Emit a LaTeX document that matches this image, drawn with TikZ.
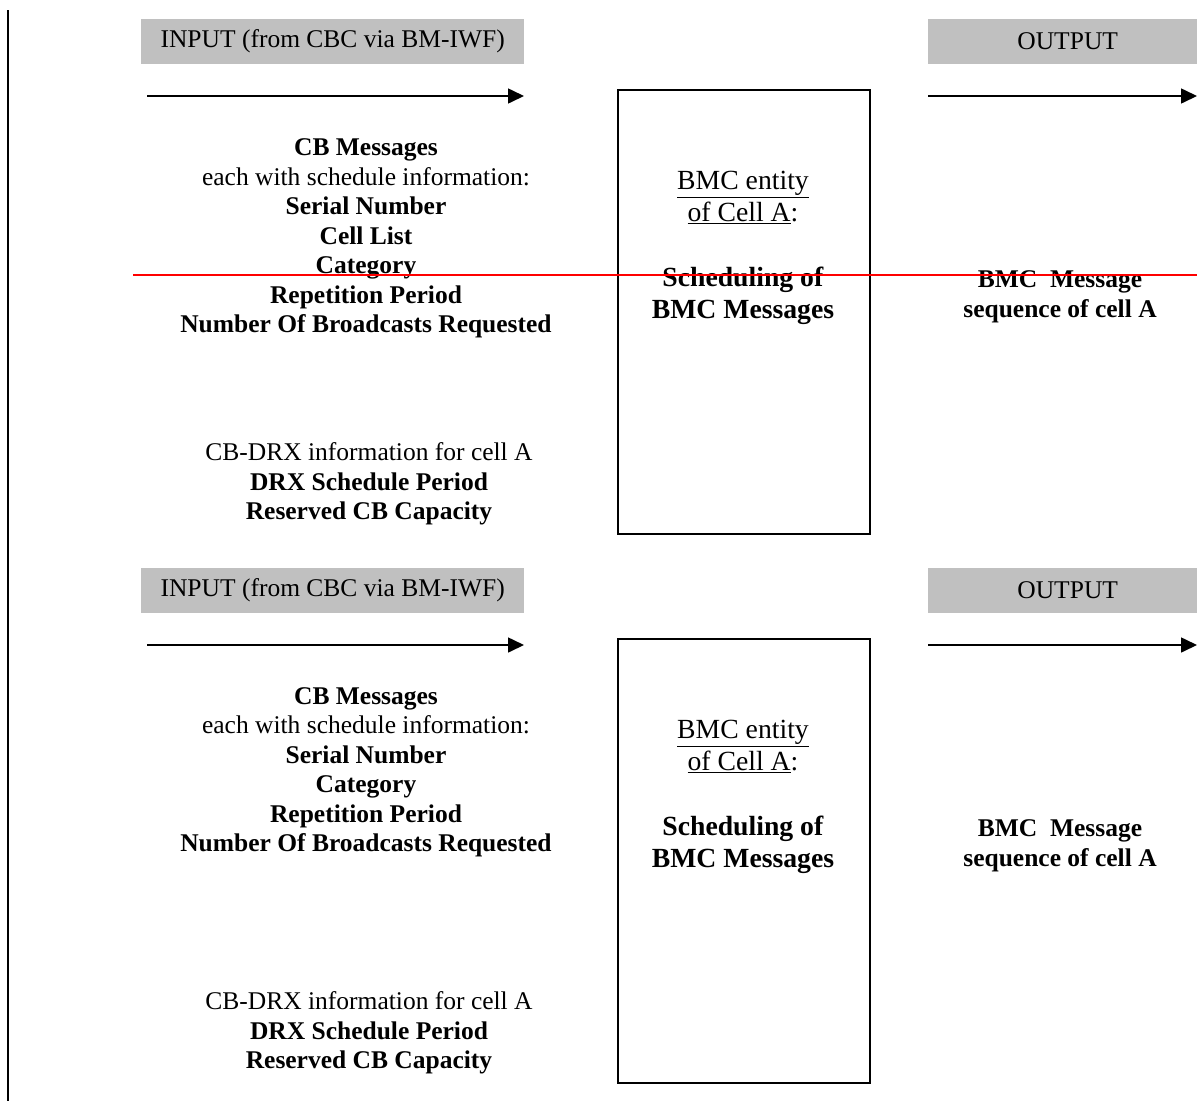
\documentclass[tikz,border=0pt]{standalone}
\usepackage{fontspec}
\setmainfont{Liberation Serif}
\usetikzlibrary{arrows.meta}
\definecolor{hdrgray}{HTML}{C0C0C0}
\tikzset{
  hdr/.style={fill=hdrgray,draw=none,minimum height=45pt,inner sep=0pt,anchor=north west,font=\fontsize{25.5}{29}\selectfont},
  flow/.style={line width=1.6pt,-{Triangle[length=16pt,width=15pt]}},
  txt/.style={align=center,inner sep=0pt,font=\fontsize{25.5}{29.5}\selectfont},
  boxtxt/.style={align=center,inner sep=0pt,font=\fontsize{27.7}{31.5}\selectfont},
  entity/.style={draw,line width=1.8pt,minimum width=252pt,minimum height=444pt,anchor=north west,inner sep=0pt}
}
\begin{document}
\begin{tikzpicture}[x=1pt,y=-1pt]
\useasboundingbox (0,0) rectangle (1197,1101);
\coordinate (vt) at (8,10);
\coordinate (vb) at (8,1101);
\draw[line width=2pt] (vt) -- (vb);
\foreach \o/\n in {0/a,549/b}{
  \node[hdr,minimum width=383pt] (in\n) at (141,18.5+\o) {INPUT (from CBC via BM-IWF)};
  \node[hdr,minimum width=279pt] (out\n) at (928,18.5+\o) {OUTPUT};
  \coordinate (ias\n) at (147,96+\o);
  \coordinate (iae\n) at (524,96+\o);
  \coordinate (oas\n) at (928,96+\o);
  \coordinate (oae\n) at (1197,96+\o);
  \draw[flow] (ias\n) -- (iae\n);
  \draw[flow] (oas\n) -- (oae\n);
  \node[entity] (box\n) at (617,89+\o) {};
  \node[boxtxt] (ent\n) at (743,248+\o) {\underline{BMC entity}\\\underline{of Cell A}:\\[34pt]\textbf{Scheduling of}\\\textbf{BMC Messages}};
  \node[txt] (seq\n) at (1060,297+\o) {\textbf{BMC\ \ Message}\\\textbf{sequence of cell A}};
  \node[txt] (drx\n) at (369,484+\o) {CB-DRX information for cell A\\\textbf{DRX Schedule Period}\\\textbf{Reserved CB Capacity}};
}
\node[txt] (cba) at (366,238.5) {\textbf{CB Messages}\\each with schedule information:\\\textbf{Serial Number}\\\textbf{Cell List}\\\textbf{Category}\\\textbf{Repetition Period}\\\textbf{Number Of Broadcasts Requested}};
\node[txt] (cbb) at (366,772.5) {\textbf{CB Messages}\\each with schedule information:\\\textbf{Serial Number}\\\textbf{Category}\\\textbf{Repetition Period}\\\textbf{Number Of Broadcasts Requested}};
\coordinate (rs) at (133,275);
\coordinate (re) at (1197,275);
\draw[red,line width=1.5pt] (rs) -- (re);
\end{tikzpicture}
\end{document}
